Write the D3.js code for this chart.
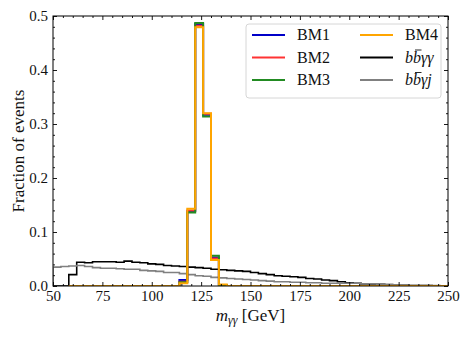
<!DOCTYPE html>
<html>
<head>
<meta charset="utf-8">
<script src="https://cdn.jsdelivr.net/npm/d3@7"></script>
<style>
body { margin: 0; background: #fff; }
</style>
</head>
<body>
<div id="chart"></div>
<script>
// histogram bin edges, 4 GeV wide from 50 to 250
var binEdges = d3.range(50, 251, 4);

// fraction of events per bin (null = bin not drawn)
var bm1 = [null,null,0,0,0,0,0,0,0,0, 0,0,0,0,0,0,0.011,0.139,0.485,0.317, 0.053,0.002,0,0,0,0,0,0,0,0, 0,0,0,0,0,0,0,0,0,0, 0,0,0,0,0,0,0,0,0,0];
var bm2 = [null,null,0,0,0,0,0,0,0,0, 0,0,0,0,0,0,0.008,0.140,0.482,0.319, 0.051,0.002,0,0,0,0,0,0,0,0, 0,0,0,0,0,0,0,0,0,0, 0,0,0,0,0,0,0,0,0,0];
var bm3 = [null,null,0,0,0,0,0,0,0,0, 0,0,0,0,0,0,0.007,0.136,0.487,0.314, 0.056,0.002,0,0,0,0,0,0,0,0, 0,0,0,0,0,0,0,0,0,0, 0,0,0,0,0,0,0,0,0,0];
var bm4 = [null,null,0,0,0,0,0,0,0,0, 0,0,0,0,0,0,0.005,0.143,0.479,0.320, 0.048,0.003,0,0,0,0,0,0,0,0, 0,0,0,0,0,0,0,0,0,0, 0,0,0,0,0,0,0,0,0,0];
var bbaa = [0,0,0.021,0.044,0.043,0.045,0.045,0.045,0.044,0.046, 0.044,0.043,0.041,0.040,0.038,0.037,0.036,0.035,0.034,0.033, 0.031,0.030,0.029,0.028,0.027,0.025,0.023,0.021,0.019,0.018, 0.017,0.016,0.014,0.013,0.011,0.010,0.008,0.006,0.005,0.004, 0.003,0.003,0.002,0.002,0.0015,0.001,0.001,0.001,0.0005,0.0005];
var bbaj = [0.035,0.036,0.037,0.038,0.036,0.034,0.033,0.033,0.032,0.031, 0.031,0.029,0.028,0.027,0.025,0.025,0.023,0.021,0.019,0.018, 0.016,0.015,0.014,0.013,0.012,0.011,0.010,0.009,0.008,0.008, 0.007,0.007,0.006,0.006,0.005,0.005,0.005,0.005,0.005,0.004, 0.004,0.003,0.003,0.002,0.002,0.001,0.001,0.001,0.001,0.0005];

var xTicks = [50, 75, 100, 125, 150, 175, 200, 225, 250];
var yTicks = [0, 0.1, 0.2, 0.3, 0.4, 0.5];

var series = [
  {name: "bbaa", vals: bbaa, color: "#000000", lw: 1.6},
  {name: "bbaj", vals: bbaj, color: "#808080", lw: 1.6},
  {name: "BM1", vals: bm1, color: "#0000c8", lw: 2},
  {name: "BM2", vals: bm2, color: "#ff3333", lw: 2},
  {name: "BM3", vals: bm3, color: "#228b22", lw: 2},
  {name: "BM4", vals: bm4, color: "#ffa500", lw: 2}
];

var serif = "'Liberation Serif', 'Times New Roman', Times, serif";

// plot box
var margin = {top: 16, right: 24, bottom: 51, left: 53},
    width = 472 - margin.left - margin.right,
    height = 337 - margin.top - margin.bottom;

var svg = d3.select("#chart")
    .append("svg")
    .attr("width", 472)
    .attr("height", 337)
    .append("g")
    .attr("transform", "translate(" + margin.left + "," + margin.top + ")");

var x = d3.scaleLinear().domain([50, 250]).range([0, width]);
var y = d3.scaleLinear().domain([0, 0.5]).range([height, 0]);

svg.append("clipPath").attr("id", "clip")
    .append("rect").attr("width", width).attr("height", height);

// step outline like matplotlib histtype='step'
function stepPath(vals) {
  var pts = [];
  vals.forEach(function(v, i) {
    if (v == null) return;
    if (pts.length == 0) pts.push([binEdges[i], 0]);
    pts.push([binEdges[i], v]);
    pts.push([binEdges[i + 1], v]);
  });
  pts.push([pts[pts.length - 1][0], 0]);
  return d3.line().x(function(d) { return x(d[0]); }).y(function(d) { return y(d[1]); })(pts);
}

var plot = svg.append("g").attr("clip-path", "url(#clip)");
series.forEach(function(s) {
  plot.append("path")
      .attr("d", stepPath(s.vals))
      .attr("fill", "none")
      .attr("stroke", s.color)
      .attr("stroke-width", s.lw)
      .attr("stroke-linejoin", "miter");
});

// axes, ticks pointing inward on all four sides
var xMinor = d3.range(50, 251, 5).filter(function(v) { return v % 25 != 0; });
var yMinor = d3.range(0, 0.5001, 0.02).filter(function(v) { return Math.round(v * 100) % 10 != 0; });

function styleAxis(g) {
  g.attr("font-family", null);
  g.select(".domain").remove();
  g.selectAll("line").attr("stroke", "#000").attr("stroke-width", 0.9);
  g.selectAll("text").style("font-family", serif).style("font-size", "15px").attr("fill", "#111");
}

svg.append("g").attr("transform", "translate(0," + height + ")")
    .call(d3.axisBottom(x).tickValues(xTicks).tickSizeInner(-4).tickSizeOuter(0).tickPadding(4).tickFormat(d3.format("d")))
    .call(styleAxis);
svg.append("g").attr("transform", "translate(0," + height + ")")
    .call(d3.axisBottom(x).tickValues(xMinor).tickSize(-2).tickFormat(""))
    .call(styleAxis);
svg.append("g")
    .call(d3.axisTop(x).tickValues(xTicks).tickSize(-4).tickFormat(""))
    .call(styleAxis);
svg.append("g")
    .call(d3.axisTop(x).tickValues(xMinor).tickSize(-2).tickFormat(""))
    .call(styleAxis);

svg.append("g")
    .call(d3.axisLeft(y).tickValues(yTicks).tickSizeInner(-4).tickSizeOuter(0).tickPadding(5).tickFormat(d3.format(".1f")))
    .call(styleAxis);
svg.append("g")
    .call(d3.axisLeft(y).tickValues(yMinor).tickSize(-2).tickFormat(""))
    .call(styleAxis);
svg.append("g").attr("transform", "translate(" + width + ",0)")
    .call(d3.axisRight(y).tickValues(yTicks).tickSize(-4).tickFormat(""))
    .call(styleAxis);
svg.append("g").attr("transform", "translate(" + width + ",0)")
    .call(d3.axisRight(y).tickValues(yMinor).tickSize(-2).tickFormat(""))
    .call(styleAxis);

// frame
svg.append("rect")
    .attr("width", width).attr("height", height)
    .attr("fill", "none").attr("stroke", "#000").attr("stroke-width", 1);

// axis labels
var xl = svg.append("text")
    .attr("x", width / 2)
    .attr("y", height + 35)
    .attr("text-anchor", "middle")
    .style("font-family", serif)
    .style("font-size", "17px")
    .attr("fill", "#111");
xl.append("tspan").attr("font-style", "italic").text("m");
xl.append("tspan").attr("font-style", "italic").style("font-size", "12px").attr("dy", 3).text("γγ");
xl.append("tspan").attr("dy", -3).text(" [GeV]");

svg.append("text")
    .attr("transform", "rotate(-90)")
    .attr("x", -height / 2)
    .attr("y", -29)
    .attr("text-anchor", "middle")
    .style("font-family", serif)
    .style("font-size", "17px")
    .attr("fill", "#111")
    .text("Fraction of events");

// legend
var legend = svg.append("g").attr("transform", "translate(" + (246 - margin.left) + "," + (24 - margin.top) + ")");
legend.append("rect")
    .attr("width", 195).attr("height", 74).attr("rx", 3)
    .attr("fill", "#fff").attr("fill-opacity", 0.85)
    .attr("stroke", "#d6d6d6").attr("stroke-width", 1);

var legendItems = [
  {label: "BM1", color: "#0000c8", col: 0, row: 0},
  {label: "BM2", color: "#ff3333", col: 0, row: 1},
  {label: "BM3", color: "#228b22", col: 0, row: 2},
  {label: "BM4", color: "#ffa500", col: 1, row: 0},
  {label: "bbaa", color: "#000000", col: 1, row: 1},
  {label: "bbaj", color: "#808080", col: 1, row: 2}
];
var colX = [6, 114], rowY = [11, 33.5, 56];

legendItems.forEach(function(d) {
  var lx = colX[d.col], ly = rowY[d.row];
  legend.append("line")
      .attr("x1", lx).attr("x2", lx + 33)
      .attr("y1", ly).attr("y2", ly)
      .attr("stroke", d.color).attr("stroke-width", 2);
  var t = legend.append("text")
      .attr("x", lx + 45).attr("y", ly + 5)
      .style("font-family", serif)
      .style("font-size", "16px")
      .attr("fill", "#111");
  if (d.label.indexOf("BM") == 0) {
    t.text(d.label);
  } else {
    t.attr("font-style", "italic");
    t.text(d.label == "bbaa" ? "bbγγ" : "bbγj");
    // bar over the second b
    var e = t.node().getExtentOfChar(1);
    legend.append("line")
        .attr("x1", e.x + 2).attr("x2", e.x + e.width + 0.5)
        .attr("y1", ly + 5 - 12.5).attr("y2", ly + 5 - 12.5)
        .attr("stroke", "#111").attr("stroke-width", 0.9);
  }
});
</script>
</body>
</html>
